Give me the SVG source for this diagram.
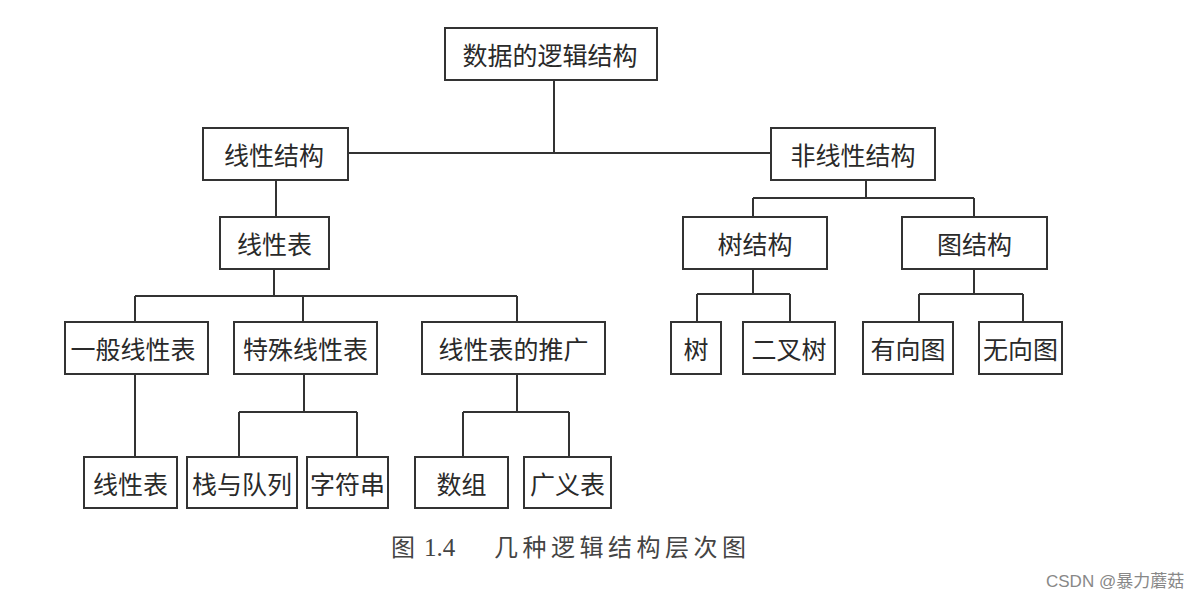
<svg xmlns="http://www.w3.org/2000/svg" width="1198" height="600" viewBox="0 0 1198 600">
<style>
.box{fill:#fff;stroke:#333;stroke-width:2}
.t{font-family:"Noto Sans CJK SC","Noto Sans",sans-serif;font-size:25px;fill:#2a2a2a;text-anchor:middle;dominant-baseline:central}
.c{fill:none;stroke:#333;stroke-width:2}
</style>
<rect width="1198" height="600" fill="#fff"/>
<g id="connectors" class="c">
<path d="M554,80V153M348,153H771"/>
<path d="M866,180V198M753,198H974M753,198V217M974,198V217"/>
<path d="M753,269V294M697,294H790M697,294V322M790,294V322"/>
<path d="M974,269V294M919,294H1023M919,294V322M1023,294V322"/>
<path d="M276,180V217"/>
<path d="M274,269V296M135,296H517M135,296V322M303,296V322M517,296V322"/>
<path d="M135,374V457"/>
<path d="M304,374V412M239,412H357M239,412V457M357,412V457"/>
<path d="M517,374V412M463,412H569M463,412V457M569,412V457"/>
</g>
<g id="n_root"><rect class="box" x="445" y="28" width="212" height="52"/><text class="t" x="550" y="54">数据的逻辑结构</text></g>
<g id="n_linear"><rect class="box" x="203" y="128" width="145" height="52"/><text class="t" x="274" y="154">线性结构</text></g>
<g id="n_nonlinear"><rect class="box" x="771" y="128" width="164" height="52"/><text class="t" x="853" y="154">非线性结构</text></g>
<g id="n_tree"><rect class="box" x="683" y="217" width="144" height="52"/><text class="t" x="755" y="243">树结构</text></g>
<g id="n_graph"><rect class="box" x="902" y="217" width="145" height="52"/><text class="t" x="974.5" y="243">图结构</text></g>
<g id="n_shu"><rect class="box" x="671" y="322" width="50" height="52"/><text class="t" x="696" y="348">树</text></g>
<g id="n_bintree"><rect class="box" x="743" y="322" width="92" height="52"/><text class="t" x="789" y="348">二叉树</text></g>
<g id="n_directed"><rect class="box" x="863" y="322" width="90" height="52"/><text class="t" x="908" y="348">有向图</text></g>
<g id="n_undirected"><rect class="box" x="979" y="322" width="83" height="52"/><text class="t" x="1020.5" y="348">无向图</text></g>
<g id="n_list"><rect class="box" x="220" y="217" width="109" height="52"/><text class="t" x="274.5" y="243">线性表</text></g>
<g id="n_general"><rect class="box" x="65" y="322" width="143" height="52"/><text class="t" x="133" y="348">一般线性表</text></g>
<g id="n_special"><rect class="box" x="234" y="322" width="143" height="52"/><text class="t" x="305.5" y="348">特殊线性表</text></g>
<g id="n_extend"><rect class="box" x="422" y="322" width="183" height="52"/><text class="t" x="513.5" y="348">线性表的推广</text></g>
<g id="n_list2"><rect class="box" x="84" y="457" width="93" height="51"/><text class="t" x="130.5" y="482.5">线性表</text></g>
<g id="n_stack"><rect class="box" x="187" y="457" width="110" height="51"/><text class="t" x="242" y="482.5">栈与队列</text></g>
<g id="n_string"><rect class="box" x="307" y="457" width="81" height="51"/><text class="t" x="347.5" y="482.5">字符串</text></g>
<g id="n_array"><rect class="box" x="415" y="457" width="93" height="51"/><text class="t" x="461.5" y="482.5">数组</text></g>
<g id="n_glist"><rect class="box" x="524" y="457" width="87" height="51"/><text class="t" x="567.5" y="482.5">广义表</text></g>
<g id="caption" fill="#444">
<text x="391" y="556" font-family="Noto Sans CJK SC,sans-serif" font-size="24">图</text>
<text x="424" y="556" font-family="Liberation Serif,serif" font-size="25">1.4</text>
<text x="494" y="556" font-family="Noto Sans CJK SC,sans-serif" font-size="24" textLength="252" lengthAdjust="spacing">几种逻辑结构层次图</text>
</g>
<text x="1046" y="587" font-family="Liberation Sans,Noto Sans CJK SC,sans-serif" font-size="17" fill="#888">CSDN @暴力蘑菇</text>
</svg>
